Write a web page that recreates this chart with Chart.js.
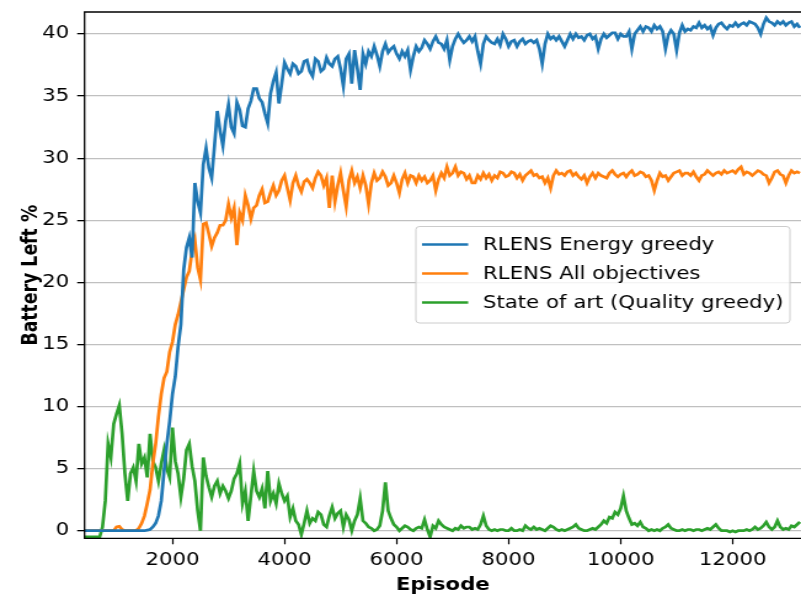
<!DOCTYPE html>
<html>
<head>
<meta charset="utf-8">
<script src="https://cdn.jsdelivr.net/npm/chart.js@4.4.1/dist/chart.umd.min.js"></script>
<style>
  html, body { margin: 0; padding: 0; background: #fff; overflow: hidden; }
</style>
</head>
<body>
<!-- drawn narrow, shown wide: the figure is stretched sideways -->
<canvas id="battery" width="651" height="597" style="display:block;width:801px;height:597px"></canvas>
<script>
// sampling grid of the curves (episodes)
const firstEpisode = 400;
const episodeStep = 50;

const seriesNames = ['RLENS Energy greedy', 'RLENS All objectives', 'State of art (Quality greedy)'];
const colours = ['#1f77b4', '#ff7f0e', '#2ca02c'];

// battery left %, one value per 50 episodes from 400 to 13200 (20 per row)
const energyGreedy = [
    0, 0, 0, 0, 0, 0, 0, 0, 0, 0, 0, 0, 0, 0, 0, 0, 0, 0, 0, 0,
    0, 0, 0, 0.05, 0.1, 0.3, 0.6, 1.2, 2.4, 4.8, 7.0, 8.8, 11.0, 12.4, 14.8, 16.6, 21.0, 22.8, 23.6, 22.0,
    28.0, 26.5, 25.6, 29.5, 30.8, 29.2, 28.4, 31.0, 33.8, 32.2, 31.0, 33.0, 34.3, 32.5, 32.0, 34.5, 33.9, 32.6, 32.5, 34.0,
    34.6, 35.6, 35.6, 34.8, 34.5, 33.6, 32.8, 35.2, 36.2, 36.9, 34.4, 36.0, 37.7, 37.2, 36.8, 37.6, 37.4, 36.8, 37.0, 37.8,
    37.9, 37.0, 36.6, 38.0, 37.8, 37.0, 37.2, 38.1, 37.6, 37.4, 38.0, 38.2, 37.2, 35.8, 38.0, 38.4, 36.0, 38.7, 37.2, 35.5,
    38.4, 37.6, 38.6, 38.2, 39.0, 38.3, 37.4, 38.6, 39.2, 38.5, 38.8, 39.0, 38.4, 38.0, 38.6, 38.2, 38.7, 37.1, 38.2, 39.0,
    38.6, 38.9, 39.5, 39.2, 38.8, 39.4, 39.8, 39.3, 39.2, 38.8, 39.5, 37.9, 39.0, 39.6, 40.0, 39.6, 39.3, 39.5, 39.8, 39.4,
    39.8, 38.6, 37.6, 39.2, 39.8, 39.5, 39.3, 39.2, 39.6, 39.1, 40.0, 39.6, 39.0, 39.4, 39.5, 39.0, 39.4, 39.6, 39.2, 39.4,
    39.5, 39.3, 39.5, 38.8, 37.6, 39.2, 40.0, 39.6, 39.8, 39.5, 39.8, 39.4, 39.0, 39.5, 40.0, 39.6, 40.0, 39.7, 39.8, 39.5,
    39.9, 40.0, 39.6, 39.8, 38.8, 39.6, 40.0, 39.7, 39.9, 40.1, 40.1, 39.6, 40.0, 39.8, 39.8, 40.2, 38.8, 40.0, 40.3, 40.6,
    40.2, 40.6, 40.5, 40.2, 40.7, 40.4, 40.6, 40.2, 38.8, 39.9, 40.3, 40.0, 38.7, 40.1, 40.7, 40.2, 40.4, 40.3, 40.6, 40.5,
    40.9, 40.5, 40.7, 40.4, 40.6, 39.9, 40.5, 40.8, 40.9, 40.6, 40.4, 40.7, 40.6, 40.9, 40.6, 40.8, 40.9, 40.7, 41.0, 40.9,
    40.8, 40.5, 40.0, 40.8, 41.3, 41.0, 40.9, 40.7, 41.0, 40.8, 41.0, 40.7, 40.9, 41.0, 40.6, 40.8, 40.5
];
const allObjectives = [
    0, 0, 0, 0, 0, 0, 0, 0, 0, 0, 0, 0, 0.3, 0.35, 0.1, 0, 0, 0, 0, 0,
    0.2, 0.6, 1.2, 2.2, 3.3, 5.4, 7.0, 9.2, 11.0, 12.3, 12.8, 14.4, 15.2, 16.6, 17.4, 18.4, 19.4, 20.4, 20.9, 22.5,
    23.4, 21.2, 20.2, 24.7, 24.8, 23.9, 22.9, 23.6, 24.0, 24.6, 24.6, 25.0, 26.3, 25.2, 26.0, 23.0, 25.6, 25.0, 27.0, 26.2,
    25.1, 26.0, 26.2, 27.0, 27.5, 26.4, 26.5, 27.2, 27.8, 27.0, 27.4, 28.2, 28.6, 27.6, 26.6, 28.0, 28.6, 27.8, 27.3, 28.1,
    28.3, 28.0, 27.6, 28.4, 28.9, 28.6, 27.8, 28.4, 26.0, 28.6, 26.5, 27.8, 28.8, 27.4, 26.1, 28.2, 29.0, 28.0, 28.5, 27.6,
    28.6, 27.8, 26.3, 28.0, 28.8, 28.2, 28.4, 28.9, 28.5, 27.8, 28.0, 28.6, 28.0, 27.2, 28.3, 28.8, 28.0, 28.6, 28.5, 28.0,
    28.6, 28.2, 28.5, 28.0, 28.2, 28.6, 27.4, 28.3, 28.8, 28.4, 29.3, 28.6, 28.8, 29.3, 28.6, 28.9, 28.8, 28.3, 28.6, 28.0,
    28.0, 28.6, 28.3, 28.8, 28.4, 28.7, 28.2, 28.6, 28.4, 28.9, 28.8, 28.5, 28.6, 28.9, 28.8, 28.4, 28.7, 28.2, 28.6, 28.8,
    29.0, 28.6, 28.7, 28.4, 28.5, 28.0, 28.4, 27.6, 28.6, 29.0, 28.7, 28.8, 28.6, 28.9, 29.0, 28.6, 28.8, 28.5, 28.3, 28.6,
    28.0, 28.5, 28.8, 28.4, 28.8, 28.6, 28.5, 28.4, 28.8, 29.0, 28.7, 28.5, 28.7, 28.8, 28.5, 28.8, 29.0, 28.6, 28.7, 28.9,
    28.8, 28.5, 28.6, 28.2, 27.4, 28.2, 28.8, 28.5, 28.6, 28.2, 28.5, 28.8, 28.9, 29.0, 28.6, 28.8, 28.8, 28.6, 28.9, 28.5,
    28.2, 28.6, 28.7, 29.0, 28.8, 28.6, 28.8, 28.9, 28.7, 29.0, 28.8, 28.9, 29.0, 28.8, 29.1, 29.3, 28.7, 28.9, 28.8, 28.6,
    28.8, 29.0, 28.9, 28.7, 28.6, 28.0, 28.4, 28.9, 29.0, 28.7, 28.6, 28.0, 28.6, 29.0, 28.8, 28.9, 28.8
];
const qualityGreedy = [
    -0.5, -0.5, -0.5, -0.5, -0.5, -0.5, -0.5, 0.3, 2.4, 7.0, 5.9, 8.6, 9.4, 10.1, 7.8, 4.6, 2.4, 4.6, 5.1, 4.0,
    7.0, 5.4, 5.9, 4.3, 7.8, 5.6, 5.1, 4.0, 5.4, 6.5, 5.0, 4.3, 8.3, 5.6, 4.6, 2.7, 4.2, 6.5, 7.0, 5.2,
    4.0, 1.6, 0.0, 5.9, 4.4, 3.5, 2.7, 3.6, 4.0, 3.0, 3.6, 3.2, 2.6, 3.2, 4.2, 4.6, 5.4, 2.2, 3.2, 0.8,
    2.8, 4.8, 3.2, 2.7, 3.4, 1.8, 4.8, 2.4, 3.0, 2.2, 3.8, 3.0, 2.4, 2.8, 1.1, 1.8, 0.8, 0.5, -0.3, 0.6,
    1.6, 0.6, 1.0, 0.8, 1.5, 1.3, 0.5, 0.3, 1.2, 1.9, 1.0, 1.4, 1.6, 0.3, 1.3, 0.9, 0.0, 0.8, 1.3, 2.6,
    0.8, 0.6, 0.3, 0.2, 0.0, 0.1, 0.4, 1.6, 3.9, 1.6, 1.0, 0.5, 0.3, 0.0, 0.2, 0.4, 0.3, 0.1, 0.0, 0.2,
    0.3, 0.2, 0.9, 0.1, -0.5, 0.4, 0.2, 0.8, 0.5, 0.3, 0.2, 0.1, 0.0, 0.2, 0.1, 0.4, 0.2, 0.3, 0.3, 0.1,
    0.2, 0.1, 0.5, 1.2, 0.4, 0.1, 0.0, 0.1, 0.0, 0.1, 0.1, 0.0, 0.0, 0.2, 0.0, 0.0, 0.1, 0.0, 0.4, 0.2,
    0.1, 0.3, 0.1, 0.2, 0.1, 0.0, 0.2, 0.4, 0.3, 0.1, 0.0, 0.1, 0.0, 0.1, 0.2, 0.3, 0.5, 0.2, 0.1, 0.0,
    0.0, 0.1, 0.2, 0.1, 0.3, 0.5, 0.8, 0.6, 1.1, 1.0, 1.5, 1.3, 1.8, 2.8, 1.6, 1.0, 0.5, 0.6, 0.4, 0.7,
    0.3, 0.2, 0.0, 0.1, 0.0, 0.1, 0.0, 0.2, 0.3, 0.5, 0.2, 0.1, 0.0, 0.0, 0.1, 0.0, 0.1, 0.1, 0.0, 0.1,
    0.1, 0.0, 0.1, 0.2, 0.1, 0.3, 0.5, 0.2, 0.0, 0.0, 0.0, -0.1, 0.0, -0.1, 0.0, 0.0, 0.0, 0.1, 0.0, 0.1,
    0.3, 0.1, 0.2, 0.4, 0.7, 0.3, 0.1, 0.3, 0.8, 0.3, 0.1, 0.2, 0.1, 0.4, 0.3, 0.5, 0.7
];

const xTicks = [2000, 4000, 6000, 8000, 10000, 12000];
const yTicks = [0, 5, 10, 15, 20, 25, 30, 35, 40];

function toPoints(values) {
    return values.map((v, i) => ({ x: firstEpisode + i * episodeStep, y: v }));
}

// black box on top, left and bottom (right side runs off the canvas)
const frame = {
    id: 'frame',
    afterDatasetsDraw(chart) {
        const { ctx, chartArea: a } = chart;
        ctx.save();
        ctx.strokeStyle = '#000';
        ctx.lineWidth = 1.3;
        ctx.beginPath();
        ctx.moveTo(a.right + 2, a.top);
        ctx.lineTo(a.left, a.top);
        ctx.lineTo(a.left, a.bottom);
        ctx.lineTo(a.right + 2, a.bottom);
        ctx.stroke();
        ctx.restore();
    }
};

// legend box inside the plot
const boxLegend = {
    id: 'boxLegend',
    afterDatasetsDraw(chart) {
        const { ctx } = chart;
        const left = 338, top = 226.5, width = 304, height = 96.5;
        ctx.save();
        ctx.beginPath();
        ctx.roundRect(left, top, width, height, 3);
        ctx.fillStyle = 'rgba(255,255,255,0.8)';
        ctx.fill();
        ctx.strokeStyle = '#cccccc';
        ctx.lineWidth = 1;
        ctx.stroke();
        ctx.font = '17.3px "DejaVu Sans"';
        ctx.textBaseline = 'middle';
        ctx.fillStyle = '#000';
        chart.data.datasets.forEach((ds, i) => {
            const y = 244.5 + i * 29;
            ctx.strokeStyle = ds.borderColor;
            ctx.lineWidth = 2.7;
            ctx.beginPath();
            ctx.moveTo(343, y);
            ctx.lineTo(380.5, y);
            ctx.stroke();
            ctx.fillText(ds.label, 392.5, y + 1);
        });
        ctx.restore();
    }
};

Chart.defaults.font.family = '"DejaVu Sans"';
Chart.defaults.font.size = 17.3;
Chart.defaults.color = '#000';

const ctx = document.getElementById('battery').getContext('2d');
const myChart = new Chart(ctx, {
    type: 'line',
    data: {
        datasets: [energyGreedy, allObjectives, qualityGreedy].map((values, i) => ({
            label: seriesNames[i],
            data: toPoints(values),
            borderColor: colours[i],
            borderWidth: 2.7,
            pointRadius: 0,
            tension: 0,
            fill: false
        }))
    },
    options: {
        responsive: false,
        animation: false,
        events: [],
        layout: { padding: { top: 12, left: 0, right: 0, bottom: 0 } },
        plugins: { legend: { display: false }, tooltip: { enabled: false } },
        scales: {
            x: {
                type: 'linear',
                min: 430,
                max: 13220,
                afterFit: (s) => { s.height = 58.7; s.paddingLeft = 0; s.paddingRight = 0; },
                afterBuildTicks: (s) => { s.ticks = xTicks.map(v => ({ value: v })); },
                ticks: { padding: 6.3, color: '#000', callback: (v) => String(v) },
                grid: { drawOnChartArea: false, drawTicks: true, tickLength: 6, tickColor: '#000', tickWidth: 1.2 },
                border: { display: false },
                title: {
                    display: true,
                    text: 'Episode',
                    font: { weight: 'bold', size: 17.3 },
                    padding: { top: 0, bottom: 1 }
                }
            },
            y: {
                min: -0.61,
                max: 41.77,
                afterFit: (s) => { s.width = 68.7; s.paddingTop = 0; s.paddingBottom = 0; },
                afterBuildTicks: (s) => { s.ticks = yTicks.map(v => ({ value: v })); },
                ticks: { padding: 6.5, color: '#000', callback: (v) => String(v) },
                grid: { color: '#c0c0c0', lineWidth: 1.3, drawTicks: true, tickLength: 6, tickColor: '#000', tickWidth: 1.3 },
                border: { display: false },
                title: {
                    display: true,
                    text: 'Battery Left %',
                    font: { weight: 'bold', size: 17.3 },
                    padding: { top: 15.5, bottom: 0 }
                }
            }
        }
    },
    plugins: [frame, boxLegend]
});
</script>
</body>
</html>
